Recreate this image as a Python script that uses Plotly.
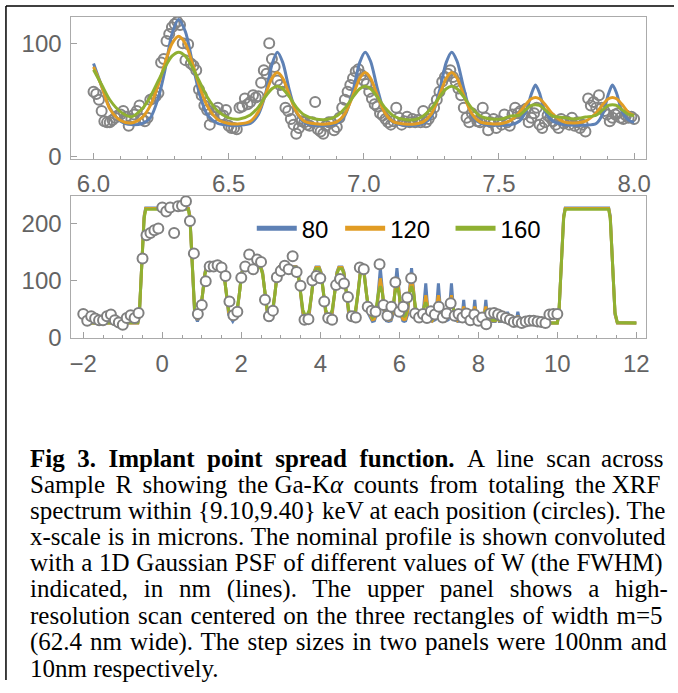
import numpy as np
import plotly.graph_objects as go

W, H = 678, 693

# ---------------- data ----------------
LEGEND_NAMES = ["80", "120", "160"]
COLORS = ["#5E81B5", "#E19C24", "#8FB032"]

# upper panel: high-resolution scan, 10 nm steps from 6.00 to 8.00 um
UP_START, UP_STEP, UP_N = 6.0, 0.01, 201
UP_COUNTS = [
    57, 55, 50, 40, 31, 30, 30, 32, 34, 36,
    37, 40, 35, 27, 33, 37, 40, 45, 33, 31,
    34, 50, 51, 53, 56, 83, 86, 102, 108, 114,
    117, 119, 116, 100, 85, 99, 82, 80, 76, 59,
    54, 45, 41, 28, 35, 40, 43, 36, 36, 41,
    27, 25, 25, 24, 43, 44, 51, 46, 48, 54,
    52, 53, 65, 76, 73, 100, 86, 79, 67, 63,
    57, 43, 40, 33, 28, 20, 25, 31, 30, 28,
    27, 30, 48, 24, 22, 20, 27, 30, 30, 23,
    26, 34, 43, 50, 57, 63, 69, 75, 77, 72,
    67, 64, 57, 51, 46, 44, 38, 36, 33, 30,
    28, 31, 43, 34, 28, 31, 35, 30, 33, 30,
    32, 30, 40, 30, 33, 37, 43, 50, 57, 66,
    70, 73, 76, 70, 66, 60, 54, 43, 34, 30,
    38, 35, 31, 30, 43, 34, 23, 30, 33, 25,
    31, 28, 37, 30, 27, 37, 43, 38, 40, 37,
    42, 30, 34, 38, 43, 28, 25, 30, 36, 34,
    31, 28, 25, 33, 29, 31, 28, 34, 27, 30,
    25, 28, 22, 51, 45, 48, 43, 54, 43, 40,
    37, 31, 34, 37, 38, 34, 33, 36, 34, 35,
    33,
]

# upper panel model curves (W = 80, 120, 160 nm)
UP_X = [6.00, 6.03, 6.06, 6.10, 6.14, 6.18, 6.21, 6.24, 6.265, 6.29, 6.315, 6.34,
        6.365, 6.39, 6.42, 6.46, 6.50, 6.54, 6.58, 6.61, 6.635, 6.66, 6.68, 6.70,
        6.725, 6.75, 6.78, 6.82, 6.86, 6.90, 6.93, 6.96, 6.985, 7.005, 7.025, 7.05,
        7.08, 7.11, 7.15, 7.19, 7.22, 7.25, 7.28, 7.305, 7.325, 7.345, 7.37, 7.40,
        7.43, 7.47, 7.51, 7.545, 7.575, 7.60, 7.62, 7.635, 7.65, 7.67, 7.70, 7.74,
        7.78, 7.82, 7.86, 7.885, 7.905, 7.92, 7.935, 7.955, 7.98, 8.00]
UP_80 = [82, 62, 43, 31, 28, 29, 34, 52, 77, 108, 121, 110,
         84, 57, 37, 29, 27.5, 27.5, 29, 37, 54, 81, 92, 83,
         58, 39, 30, 27.5, 27.5, 29, 36, 58, 83, 92, 84, 60,
         37, 30, 27.5, 27.5, 29, 35, 58, 83, 92, 84, 60, 36,
         29.5, 27.5, 27.5, 28, 31, 40, 55, 63, 56, 40, 31, 28,
         27.5, 27.5, 29, 38, 55, 63, 56, 40, 32, 30]
UP_120 = [79, 62, 42, 31.6, 29.5, 34.4, 44.8, 63.4, 82.9, 99.5, 106, 99.5,
          83, 63.4, 44.8, 32.4, 29, 28.7, 31, 39.5, 53.8, 69, 74, 69,
          53.8, 39.5, 31, 28.7, 28.5, 30.4, 37.5, 53.8, 69, 74, 69, 53.8,
          37.5, 30.4, 28.6, 28.6, 30.4, 37.5, 53.8, 69, 74, 69, 53.8, 37.5,
          30.4, 28.7, 29, 32, 38.5, 46, 50.8, 52, 50.8, 46, 37, 30.5,
          29.5, 31, 38.5, 46, 50.8, 52, 50.8, 46, 38.5, 36]
UP_160 = [76.5, 63.3, 50, 39.3, 35, 42, 52.7, 67, 79, 88.5, 92, 88.5,
          79, 67, 52.7, 39.9, 34, 33, 36.5, 43.5, 52.5, 59.7, 62, 59.7,
          52.5, 43.5, 36.5, 33, 32.5, 35.7, 42.4, 52.5, 59.7, 62, 59.7, 52.5,
          42.4, 35.7, 32.5, 32.5, 35.7, 42.4, 52.5, 59.7, 62, 59.7, 52.5, 42.4,
          35.7, 33, 33, 35.7, 36.3, 41.2, 45, 45.5, 45, 41.2, 35.5, 34.2,
          33, 34.7, 36.3, 41.2, 45, 45.5, 45, 41.2, 37, 36]

# lower panel: line scan, 100 nm steps from -2.0 to 10.0 um
LOW_START, LOW_STEP, LOW_N = -2.0, 0.1, 121
LOW_COUNTS = [
    41, 29, 37, 33, 30, 30, 37, 40, 30, 26,
    22, 34, 39, 34, 43, 139, 180, 184, 189, 192,
    229, 222, 229, 184, 231, 232, 240, 205, 148, 41,
    57, 99, 125, 125, 127, 123, 108, 63, 39, 45,
    105, 125, 146, 120, 137, 133, 66, 37, 47, 106,
    117, 126, 120, 143, 115, 91, 31, 32, 100, 108,
    104, 63, 34, 31, 92, 103, 95, 71, 37, 35,
    123, 120, 54, 47, 45, 129, 57, 38, 54, 97,
    45, 54, 70, 104, 42, 35, 41, 34, 46, 40,
    54, 35, 42, 60, 38, 41, 35, 42, 30, 40,
    29, 35, 23, 42, 43, 40, 37, 34, 31, 27,
    28, 25, 28, 29, 29, 28, 27, 25, 40, 41,
    41,
]

# lower panel model curves
LOW_X = [-2.00, -0.62, -0.58, -0.52, -0.46, -0.42, 0.66, 0.70, 0.76, 0.82, 0.89,
         0.96, 1.02, 1.08, 1.13, 1.51, 1.56, 1.62, 1.68, 1.785,
         1.89, 1.95, 2.01, 2.06, 2.49, 2.54, 2.60, 2.66, 2.725,
         2.79, 2.85, 2.91, 2.96, 3.39, 3.44, 3.50, 3.56, 3.64,
         3.72, 3.78, 3.84, 3.89, 3.97, 4.02, 4.08, 4.14, 4.22,
         4.30, 4.36, 4.42, 4.47, 4.55, 4.60, 4.66, 4.72, 4.805,
         4.89, 4.95, 5.01, 5.06, 5.11, 5.17, 5.23, 5.32,
         5.37, 5.42, 5.47, 5.52, 5.57, 5.62, 5.67, 5.73,
         5.79, 5.84, 5.89, 5.94, 5.99, 6.04, 6.09, 6.125,
         6.16, 6.21, 6.26, 6.31, 6.36, 6.41, 6.46, 6.52,
         6.59, 6.63, 6.67, 6.71, 6.75, 6.83,
         6.91, 6.95, 6.99, 7.03, 7.07, 7.155,
         7.24, 7.28, 7.32, 7.36, 7.40, 7.475,
         7.57, 7.60, 7.63, 7.66, 7.69, 7.77,
         7.85, 7.88, 7.91, 7.94, 7.97, 8.05,
         8.13, 8.16, 8.19, 8.22, 8.25, 8.36,
         8.43, 8.455, 8.48, 8.505, 8.53,
         8.69, 8.715, 8.74, 8.765, 8.79,
         8.95, 8.975, 9.00, 9.025, 9.05, 9.30,
         10.00, 10.04, 10.10, 10.16, 10.20, 11.30, 11.34, 11.40, 11.46, 11.52, 12.00]
LOW_80 = [25, 25, 40, 127, 214, 228, 228, 214, 127, 40, 28,
          40, 76, 115, 125, 125, 115, 76, 40, 28,
          40, 76, 115, 125, 125, 115, 76, 40, 28,
          40, 76, 115, 125, 125, 115, 76, 40, 28,
          40, 76, 115, 124, 124, 115, 76, 40, 28,
          40, 76, 115, 124, 124, 115, 76, 40, 28,
          40, 76, 115, 123, 115, 76, 40, 28,
          29, 40, 84, 122, 84, 40, 29, 28,
          29, 40, 84, 122, 84, 40, 29, 28,
          29, 40, 84, 122, 84, 40, 29, 28,
          31, 59, 95, 59, 31, 28,
          31, 59, 95, 59, 31, 28,
          31, 59, 95, 59, 31, 28,
          29, 44, 66, 44, 29, 28,
          29, 44, 66, 44, 29, 28,
          29, 44, 66, 44, 29, 28,
          28, 34, 45, 34, 28,
          28, 34, 45, 34, 28,
          28, 34, 45, 34, 28, 25,
          25, 40, 127, 214, 228, 228, 214, 127, 40, 25, 25]
LOW_120 = [25, 25, 42, 127, 212, 227, 227, 212, 127, 44, 31,
           44, 76, 113, 124, 124, 113, 76, 44, 31,
           44, 76, 113, 124, 124, 113, 76, 44, 31,
           44, 76, 113, 124, 124, 113, 76, 44, 31,
           44, 76, 113, 123, 123, 113, 76, 44, 31,
           44, 76, 113, 123, 123, 113, 76, 44, 31,
           44, 76, 113, 121, 113, 76, 44, 31,
           32, 47, 82, 104, 82, 47, 32, 30,
           32, 47, 82, 104, 82, 47, 32, 31,
           32, 47, 82, 104, 82, 47, 32, 29,
           36, 58, 74, 58, 36, 29,
           36, 58, 74, 58, 36, 29,
           36, 58, 74, 58, 36, 29,
           33, 45, 54, 45, 33, 29,
           33, 45, 54, 45, 33, 29,
           33, 45, 54, 45, 33, 29,
           29, 33, 38, 33, 29,
           29, 33, 38, 33, 29,
           29, 33, 38, 33, 29, 25,
           25, 42, 127, 212, 227, 227, 212, 127, 42, 25, 25]
LOW_160 = [25, 26, 44, 127, 209, 226, 226, 209, 127, 48, 35,
           48, 76, 111, 123, 123, 111, 76, 48, 35,
           48, 76, 111, 123, 123, 111, 76, 48, 35,
           48, 76, 111, 123, 123, 111, 76, 48, 35,
           48, 76, 111, 121, 121, 111, 76, 48, 35,
           48, 76, 111, 121, 121, 111, 76, 48, 35,
           48, 76, 110, 117, 110, 76, 48, 35,
           39, 54, 78, 90, 78, 54, 39, 34,
           39, 54, 78, 90, 78, 54, 39, 37,
           39, 54, 78, 90, 78, 54, 39, 33,
           40, 54, 62, 54, 40, 32,
           40, 54, 62, 54, 40, 32,
           40, 54, 62, 54, 40, 32,
           35, 42, 47, 42, 35, 31,
           35, 42, 47, 42, 35, 31,
           35, 42, 47, 42, 35, 30,
           30, 31.5, 34, 31.5, 30,
           30, 31.5, 34, 31.5, 30,
           30, 31.5, 34, 31.5, 30, 25,
           25, 44, 127, 209, 226, 226, 209, 127, 44, 26, 25]

# caption (justified lines); extra Unicode spaces widen word gaps where needed
S5 = " \u2005"   # space + four-per-em space
S6 = " \u2006"   # space + six-per-em space
CAPTION = [
    "<b>Fig" + S5 + "3." + S5 + "Implant" + S5 + "point" + S5 + "spread" + S5 + "function.</b>"
    + S5 + "A" + S5 + "line" + S5 + "scan" + S6 + "across",
    "Sample" + S6 + "R" + S6 + "showing" + S6 + "the Ga-K<i>α</i>" + S6 + "counts"
    + S6 + "from" + S6 + "totaling" + S6 + "the XRF",
    "spectrum within {9.10,9.40} keV at each position (circles). The",
    "x-scale is in microns. The nominal profile is shown convoluted",
    "with a 1D Gaussian PSF of different values of W (the FWHM)",
    "indicated, in nm (lines). The upper panel shows a high-",
    "resolution scan centered on the three rectangles of width m=5",
    "(62.4 nm wide). The step sizes in two panels were 100nm and",
    "10nm respectively.",
]
# extra word spacing (px) used to justify the plain caption lines
CAPTION_WORD_SPACING = [0.0, 0.0, 0.0, 0.6, 0.5, 9.6, 1.85, 1.7, 0.0]

up_x = np.round(UP_START + UP_STEP * np.arange(UP_N), 2)
low_x = np.round(LOW_START + LOW_STEP * np.arange(LOW_N), 2)

# ---------------- figure ----------------
fig = go.Figure()

fig.add_trace(go.Scatter(
    x=up_x, y=UP_COUNTS, mode="markers", xaxis="x", yaxis="y", showlegend=False,
    marker=dict(symbol="circle-open", size=10, color="#858585", line=dict(width=2)),
))
for name, ys, col in zip(LEGEND_NAMES, [UP_80, UP_120, UP_160], COLORS):
    fig.add_trace(go.Scatter(
        x=UP_X, y=ys, mode="lines", xaxis="x", yaxis="y", showlegend=False,
        line=dict(color=col, width=3, shape="spline", smoothing=0.8), name=name,
    ))

for name, ys, col in zip(LEGEND_NAMES, [LOW_80, LOW_120, LOW_160], COLORS):
    fig.add_trace(go.Scatter(
        x=LOW_X, y=ys, mode="lines", xaxis="x2", yaxis="y2", name=name,
        showlegend=False, line=dict(color=col, width=3),
    ))
fig.add_trace(go.Scatter(
    x=low_x, y=LOW_COUNTS, mode="markers", xaxis="x2", yaxis="y2", showlegend=False,
    marker=dict(symbol="circle", size=10, color="white", line=dict(width=2, color="#808080")),
))
# legend entries (thicker swatches, as in the original key)
pads = ["\u00a0", "\u00a0\u00a0\u200a", ""]
for name, col, pad in zip(LEGEND_NAMES, COLORS, pads):
    fig.add_trace(go.Scatter(
        x=[None], y=[None], mode="lines", xaxis="x2", yaxis="y2", name=name + pad,
        line=dict(color=col, width=5),
    ))

tickfont = dict(family="Liberation Sans, Arial, sans-serif", size=24, color="#636363")
common = dict(showline=True, mirror=True, linecolor="#ababab", linewidth=1,
              ticks="inside", ticklen=6, tickcolor="#a0a0a0", tickwidth=1,
              showgrid=False, zeroline=False, tickfont=tickfont)

xdom = [70 / W, 650 / W]
fig.update_layout(
    width=W, height=H, margin=dict(l=0, r=0, t=0, b=0),
    paper_bgcolor="white", plot_bgcolor="white",
    xaxis=dict(domain=xdom, anchor="y", range=[5.918, 8.045], tick0=6, dtick=0.5,
               tickformat=".1f", ticklabelstandoff=3,
               minor=dict(dtick=0.1, ticks="inside", ticklen=3, tickcolor="#a0a0a0"),
               **common),
    yaxis=dict(domain=[1 - 162.3 / H, 1 - 17 / H], anchor="x", range=[-2.6, 123.4],
               tickvals=[0, 100], ticklabelstandoff=4, **common),
    xaxis2=dict(domain=xdom, anchor="y2", range=[-2.301, 12.251], tick0=-2, dtick=2,
                ticklabelstandoff=4,
                minor=dict(dtick=0.5, ticks="inside", ticklen=3, tickcolor="#a0a0a0"),
                **common),
    yaxis2=dict(domain=[1 - 344.3 / H, 1 - 199.3 / H], anchor="x2", range=[-1, 250],
                tickvals=[0, 100, 200], ticklabelstandoff=4, **common),
    legend=dict(orientation="h", x=252 / W, y=1 - 233 / H, xanchor="left", yanchor="middle",
                font=dict(family="Liberation Sans, Arial, sans-serif", size=24, color="black"),
                bgcolor="rgba(0,0,0,0)", itemwidth=40),
)

# outer frame (left and top rules)
fig.add_shape(type="line", xref="paper", yref="paper", x0=4 / W, x1=4 / W, y0=0, y1=1 - 6 / H,
              line=dict(color="black", width=1.5))
fig.add_shape(type="line", xref="paper", yref="paper", x0=4 / W, x1=1, y0=1 - 6 / H, y1=1 - 6 / H,
              line=dict(color="black", width=1.5))

for k, (line, ws) in enumerate(zip(CAPTION, CAPTION_WORD_SPACING)):
    text = f'<span style="word-spacing:{ws}px">{line}</span>' if ws else line
    fig.add_annotation(
        text=text, xref="paper", yref="paper", x=26 / W, y=1 - (467 + 26.75 * k) / H,
        xanchor="left", yanchor="middle", showarrow=False, align="left",
        font=dict(family="Liberation Serif, Times New Roman, serif", size=25, color="black"),
    )

fig.write_html("out.html", config={"displayModeBar": False},
               post_script="document.body.style.margin='0';")
